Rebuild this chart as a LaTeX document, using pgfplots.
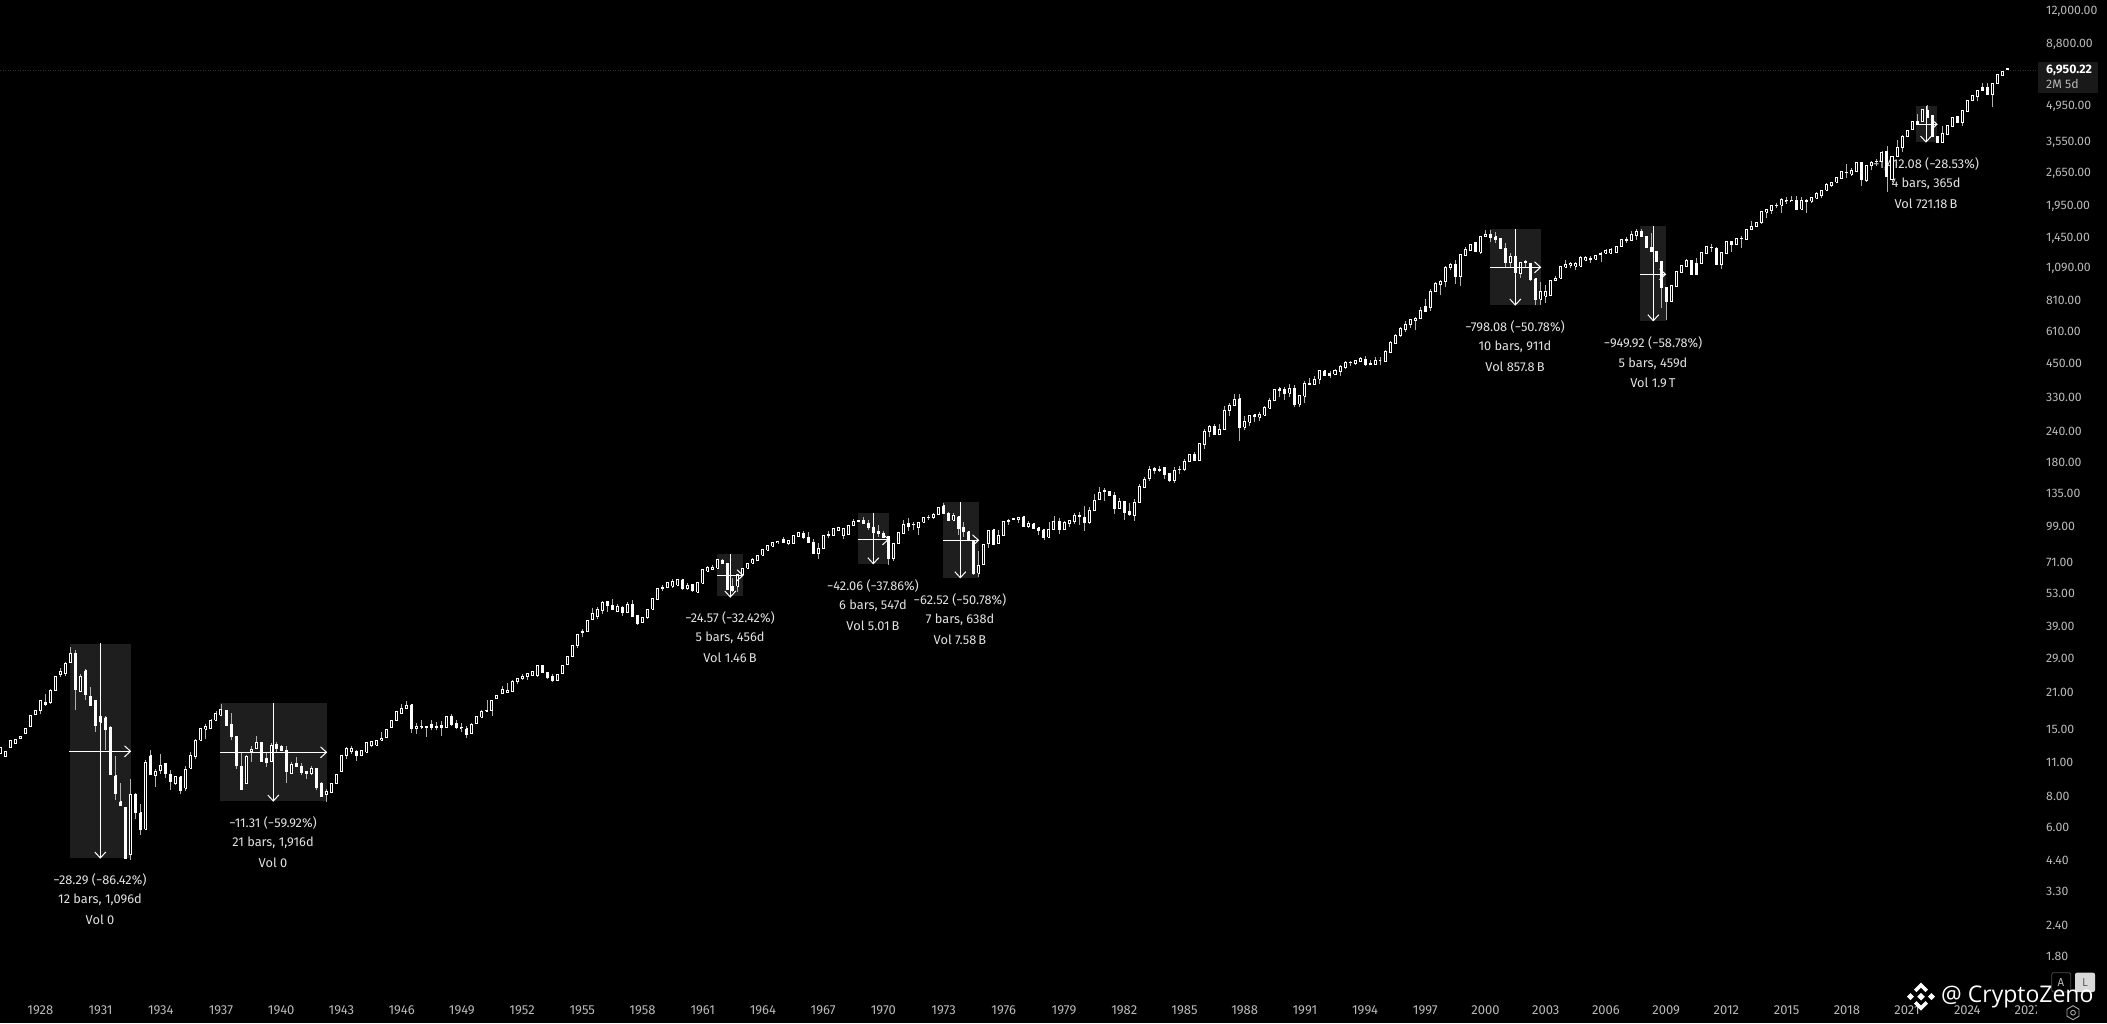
\documentclass[border=0pt]{standalone}
\usepackage{fontspec}
\setmainfont{Fira Sans}
\newfontfamily\wmfont{Open Sans}
\usepackage{pgfplots}
\usepackage{pgfplotstable}
\pgfplotsset{compat=1.18}
\definecolor{annbg}{HTML}{1E1E1E}
\definecolor{ticktxt}{HTML}{B8B8B8}
\definecolor{anntxt}{HTML}{E2E2E2}
\definecolor{wickc}{HTML}{B0B0B0}
\pgfplotstableread{
yr o h l c
1926.00 11.80 12.60 11.80 12.55
1926.25 11.45 12.05 11.45 12.00
1926.50 12.55 13.40 12.55 13.35
1926.75 12.95 13.55 12.95 13.50
1927.00 13.55 13.90 13.55 13.85
1927.25 14.20 14.95 14.20 14.90
1927.50 15.20 16.90 15.20 16.85
1927.75 17.00 17.65 17.00 17.60
1928.00 17.60 19.35 17.00 19.30
1928.25 19.00 20.60 18.40 18.70
1928.50 19.00 21.60 18.70 21.20
1928.75 21.20 24.25 21.20 24.20
1929.00 24.60 26.10 24.20 25.30
1929.25 24.80 27.80 24.30 27.30
1929.50 27.60 31.80 27.60 30.05
1929.75 30.05 31.00 17.80 21.50
1930.00 21.00 24.70 21.00 24.10
1930.25 25.50 25.90 19.40 20.40
1930.50 20.10 22.00 18.50 18.50
1930.75 19.40 19.45 14.40 15.30
1931.00 15.80 18.20 15.10 16.70
1931.25 16.50 16.70 12.20 14.80
1931.50 15.10 15.20 9.70 9.70
1931.75 9.60 11.50 7.65 8.15
1932.00 7.55 8.95 7.25 7.25
1932.25 7.15 7.20 4.45 4.45
1932.50 4.60 9.30 4.40 8.10
1932.75 8.10 8.15 6.40 6.85
1933.00 6.80 7.40 5.55 5.85
1933.25 5.85 11.10 5.85 10.90
1933.50 11.60 12.20 9.70 9.70
1933.75 9.60 10.25 8.65 10.00
1934.00 10.05 11.80 9.75 10.60
1934.25 10.80 10.85 9.40 9.80
1934.50 9.75 10.10 8.40 9.10
1934.75 8.90 9.50 8.85 9.50
1935.00 9.50 9.60 8.10 8.40
1935.25 8.55 10.50 8.30 10.15
1935.50 10.30 12.00 10.30 11.60
1935.75 11.45 13.50 11.20 13.35
1936.00 13.35 15.00 13.35 14.95
1936.25 14.80 15.60 13.50 15.25
1936.50 14.90 16.30 14.90 16.00
1936.75 16.10 17.60 16.10 17.10
1937.00 16.90 18.80 16.70 17.80
1937.25 17.70 17.75 15.20 15.30
1937.50 15.50 17.20 13.35 13.80
1937.75 13.80 13.85 10.25 10.55
1938.00 10.50 12.00 8.45 8.45
1938.25 8.95 11.70 8.95 11.45
1938.50 12.00 12.65 10.95 12.30
1938.75 12.40 13.90 12.35 13.10
1939.00 13.10 13.20 10.95 10.95
1939.25 11.30 12.00 10.45 10.85
1939.50 10.95 13.00 10.95 12.70
1939.75 12.80 13.20 11.95 12.35
1940.00 12.65 12.80 12.05 12.10
1940.25 12.15 12.65 9.00 10.00
1940.50 9.80 10.95 9.80 10.70
1940.75 10.75 11.40 10.45 10.50
1941.00 10.50 10.80 9.65 9.90
1941.25 10.00 10.00 9.35 9.80
1941.50 9.80 10.50 9.65 10.25
1941.75 10.25 10.30 8.40 8.65
1942.00 8.90 9.10 7.95 7.95
1942.25 8.05 8.50 7.55 8.30
1942.50 8.20 8.95 8.20 8.90
1942.75 8.95 9.75 8.95 9.75
1943.00 9.95 11.60 9.95 11.60
1943.25 11.60 12.50 11.20 12.35
1943.50 12.05 12.65 11.80 12.40
1943.75 12.05 12.20 11.05 11.60
1944.00 11.55 12.10 11.55 12.10
1944.25 11.95 13.05 11.95 13.05
1944.50 12.70 13.30 12.50 13.20
1944.75 12.75 13.30 12.75 13.30
1945.00 13.35 14.50 13.35 13.60
1945.25 13.70 14.80 13.70 14.80
1945.50 15.00 16.00 15.00 16.00
1945.75 16.05 17.40 16.05 17.40
1946.00 17.10 18.70 17.10 18.00
1946.25 17.95 19.30 17.95 18.40
1946.50 18.60 18.65 14.25 14.85
1946.75 14.90 15.70 14.20 15.20
1947.00 15.10 16.10 14.85 15.20
1947.25 15.20 15.20 13.80 15.10
1947.50 15.50 16.10 14.70 15.00
1947.75 15.10 15.85 14.70 15.15
1948.00 15.35 16.00 13.90 15.10
1948.25 15.05 16.70 15.05 16.70
1948.50 16.70 17.00 15.20 15.45
1948.75 15.70 16.10 14.85 15.10
1949.00 15.00 15.75 14.45 15.05
1949.25 14.90 15.20 13.60 14.10
1949.50 14.20 15.75 14.20 15.55
1949.75 15.60 16.65 15.60 16.65
1950.00 16.60 17.65 16.60 17.40
1950.25 17.55 19.40 17.55 17.65
1950.50 17.60 19.40 16.80 19.40
1950.75 19.70 20.30 19.70 20.30
1951.00 20.60 22.10 20.60 21.50
1951.25 20.90 22.75 20.90 21.30
1951.50 21.00 23.45 21.00 23.15
1951.75 23.20 23.80 22.50 23.80
1952.00 23.80 24.80 23.40 24.30
1952.25 24.20 24.90 23.40 24.90
1952.50 24.40 25.30 24.40 25.30
1952.75 24.40 26.70 24.00 26.70
1953.00 26.70 26.75 25.10 25.10
1953.25 25.20 25.25 23.70 24.00
1953.50 24.30 24.80 23.00 23.40
1953.75 23.40 24.70 23.40 24.70
1954.00 25.00 26.90 25.00 26.90
1954.25 27.00 29.30 27.00 29.30
1954.50 29.10 32.40 29.10 32.40
1954.75 32.20 35.90 31.70 35.90
1955.00 36.50 37.70 34.90 36.70
1955.25 36.80 40.90 36.80 40.90
1955.50 41.30 45.80 41.30 43.60
1955.75 42.30 46.20 41.30 45.30
1956.00 44.70 48.90 43.30 48.30
1956.25 48.70 48.75 44.30 46.80
1956.50 46.90 49.70 45.10 45.10
1956.75 44.30 47.50 44.30 46.50
1957.00 46.20 46.80 42.70 43.80
1957.25 43.90 48.40 43.90 47.50
1957.50 47.50 49.20 42.30 42.30
1957.75 42.80 42.85 39.10 39.50
1958.00 40.00 42.10 40.00 42.10
1958.25 41.90 45.30 41.50 45.30
1958.50 45.20 50.10 45.20 50.10
1958.75 49.50 55.00 49.50 55.00
1959.00 55.00 57.00 53.80 55.20
1959.25 55.30 58.10 55.30 58.10
1959.50 56.20 60.30 55.20 58.60
1959.75 56.60 59.70 56.60 59.70
1960.00 59.70 59.75 54.00 55.00
1960.25 54.90 57.70 54.00 56.70
1960.50 57.20 57.25 53.00 53.70
1960.75 53.00 58.10 52.50 58.10
1961.00 57.70 65.30 57.70 65.30
1961.25 64.60 67.90 64.60 66.65
1961.50 65.30 68.50 65.30 67.10
1961.75 66.40 71.80 66.40 71.80
1962.00 71.60 72.30 69.40 69.40
1962.25 69.60 69.70 54.30 54.40
1962.50 56.20 60.50 53.00 54.10
1962.75 56.00 62.60 53.30 62.60
1963.00 62.40 66.40 62.40 66.40
1963.25 66.20 69.60 66.20 69.60
1963.50 69.60 73.10 69.60 71.80
1963.75 71.10 74.90 71.10 74.90
1964.00 74.90 78.80 74.90 78.80
1964.25 78.30 82.00 78.30 82.00
1964.50 81.50 84.30 81.50 84.30
1964.75 84.90 85.20 83.10 85.10
1965.00 86.50 88.70 83.80 84.30
1965.25 83.80 86.20 82.00 86.20
1965.50 83.30 89.60 83.30 89.60
1965.75 89.10 93.30 89.10 92.50
1966.00 92.00 94.20 87.10 88.70
1966.25 88.70 93.30 84.30 84.30
1966.50 84.60 87.10 75.80 76.30
1966.75 76.10 83.80 72.50 79.90
1967.00 79.40 90.40 79.40 90.40
1967.25 90.40 94.00 87.60 90.50
1967.50 89.90 96.30 89.90 96.30
1967.75 93.90 97.80 93.90 97.20
1968.00 90.40 96.30 87.10 96.30
1968.25 90.70 99.10 90.70 99.10
1968.50 98.80 104.90 98.80 102.90
1968.75 102.90 104.00 101.90 103.50
1969.00 103.50 106.80 101.00 101.00
1969.25 101.00 104.10 94.80 96.90
1969.50 97.20 110.70 91.50 92.60
1969.75 93.10 99.10 89.10 92.00
1970.00 92.00 94.20 88.70 88.70
1970.25 89.10 89.20 68.50 72.70
1970.50 72.70 83.80 71.30 83.80
1970.75 83.50 92.30 83.50 92.30
1971.00 92.00 103.50 92.00 99.90
1971.25 100.20 105.70 94.20 98.10
1971.50 99.50 101.70 94.80 100.00
1971.75 97.20 101.40 90.40 101.40
1972.00 101.70 106.80 101.70 106.80
1972.25 106.70 109.40 104.10 106.80
1972.50 106.40 111.00 105.10 109.40
1972.75 109.10 116.80 109.10 116.80
1973.00 118.50 121.50 110.00 110.00
1973.25 110.70 112.40 103.50 103.50
1973.50 103.50 110.70 103.50 108.00
1973.75 107.30 107.40 90.40 96.30
1974.00 97.20 102.50 89.10 93.30
1974.25 93.30 93.40 85.30 85.80
1974.50 85.80 85.90 62.40 62.90
1974.75 63.40 77.80 61.00 67.90
1975.00 68.40 82.80 68.40 82.80
1975.25 83.30 94.20 79.90 94.20
1975.50 94.80 96.00 82.80 82.80
1975.75 83.30 94.80 83.30 89.90
1976.00 89.90 102.90 89.90 102.90
1976.25 102.30 105.10 99.50 103.50
1976.50 104.10 105.90 104.10 105.90
1976.75 104.10 106.80 101.00 106.80
1977.00 107.30 107.40 98.00 98.00
1977.25 97.70 102.90 96.50 100.50
1977.50 100.20 100.30 96.20 96.20
1977.75 96.80 96.90 90.10 94.40
1978.00 95.00 95.10 86.60 88.10
1978.25 88.40 102.40 88.40 95.50
1978.50 95.00 108.30 95.00 102.40
1978.75 102.40 106.30 91.50 95.30
1979.00 95.30 103.40 95.30 101.50
1979.25 100.50 104.40 97.70 103.40
1979.50 102.40 110.90 100.50 108.90
1979.75 108.90 111.90 99.60 107.60
1980.00 106.30 118.60 94.10 101.80
1980.25 101.20 116.90 100.00 114.00
1980.50 113.70 132.90 113.70 125.20
1980.75 125.60 140.90 125.60 134.60
1981.00 136.00 139.60 124.30 136.30
1981.25 135.90 135.95 129.90 130.30
1981.50 130.00 134.60 110.30 115.30
1981.75 115.60 127.50 115.60 123.00
1982.00 123.20 123.60 104.30 111.70
1982.25 113.00 121.80 107.60 109.10
1982.50 108.50 126.80 103.00 121.80
1982.75 122.20 144.90 122.20 141.60
1983.00 140.60 154.50 140.60 152.00
1983.25 153.10 171.80 149.00 166.90
1983.50 167.30 171.10 159.50 165.10
1983.75 165.50 171.80 162.80 166.00
1984.00 169.00 169.10 152.00 159.00
1984.25 160.00 160.10 148.00 150.00
1984.50 149.70 170.70 147.00 165.60
1984.75 166.00 171.80 160.00 166.50
1985.00 165.90 183.30 163.70 179.80
1985.25 178.70 191.80 178.70 191.80
1985.50 191.80 196.30 180.40 180.40
1985.75 180.90 213.00 180.90 211.00
1986.00 209.80 242.70 201.70 237.40
1986.25 236.70 251.70 226.00 249.30
1986.50 248.50 254.40 228.40 229.70
1986.75 230.40 254.40 230.40 241.80
1987.00 241.00 300.00 241.00 288.70
1987.25 287.50 309.00 273.90 303.00
1987.50 301.60 337.00 301.60 318.00
1987.75 321.00 337.00 217.50 245.00
1988.00 246.80 273.50 241.40 259.30
1988.25 258.50 275.20 249.10 275.20
1988.50 277.00 277.10 258.50 273.50
1988.75 270.60 284.30 262.00 278.00
1989.00 276.00 301.30 276.00 295.10
1989.25 294.20 322.50 294.20 316.60
1989.50 315.00 352.00 315.00 350.20
1989.75 353.00 360.00 327.00 348.00
1990.00 352.00 360.00 316.60 338.50
1990.25 338.50 369.00 327.00 355.00
1990.50 355.00 367.00 297.00 305.00
1990.75 305.00 334.00 297.00 331.00
1991.00 329.00 380.00 310.00 371.00
1991.25 371.00 391.00 367.00 367.00
1991.50 366.00 399.00 366.00 386.00
1991.75 385.00 417.50 368.00 417.00
1992.00 417.00 420.00 400.00 400.00
1992.25 407.00 417.00 391.00 400.00
1992.50 404.00 426.00 404.00 417.00
1992.75 416.00 441.00 396.00 434.00
1993.00 431.00 458.00 426.00 449.00
1993.25 450.00 456.00 437.00 451.00
1993.50 447.00 463.00 442.00 458.00
1993.75 455.00 473.00 455.00 467.00
1994.00 465.00 478.00 438.00 442.00
1994.25 445.00 463.00 439.00 443.00
1994.50 442.00 475.00 442.00 461.00
1994.75 461.00 475.00 442.00 461.00
1995.00 455.00 506.00 455.00 497.00
1995.25 496.00 550.00 496.00 541.00
1995.50 538.00 587.00 538.00 581.00
1995.75 578.00 625.00 573.00 617.00
1996.00 612.00 665.00 600.00 644.00
1996.25 642.00 678.00 622.00 670.00
1996.50 666.00 690.00 608.00 681.00
1996.75 676.00 757.00 676.00 733.00
1997.00 757.00 816.00 728.00 728.00
1997.25 751.00 891.00 728.00 873.00
1997.50 869.00 958.00 869.00 940.00
1997.75 934.00 976.00 848.00 958.00
1998.00 955.00 1109.00 914.00 1096.00
1998.25 1091.00 1138.00 1068.00 1124.00
1998.50 1127.00 1170.00 935.00 1002.00
1998.75 1001.00 1235.00 922.00 1228.00
1999.00 1222.00 1320.00 1222.00 1286.00
1999.25 1278.00 1360.00 1278.00 1356.00
1999.50 1372.00 1375.00 1266.00 1266.00
1999.75 1258.00 1465.00 1232.00 1460.00
2000.00 1456.00 1549.00 1456.00 1487.00
2000.25 1491.00 1549.00 1381.00 1438.00
2000.50 1451.00 1515.00 1368.00 1421.00
2000.75 1431.00 1435.00 1302.00 1302.00
2001.00 1306.00 1372.00 1085.00 1147.00
2001.25 1143.00 1254.00 1085.00 1212.00
2001.50 1212.00 1216.00 944.00 1037.00
2001.75 1030.00 1145.00 990.00 1140.00
2002.00 1147.00 1170.00 1085.00 1149.00
2002.25 1136.00 1143.00 965.00 980.00
2002.50 983.00 985.00 772.00 812.00
2002.75 812.00 950.00 769.00 876.00
2003.00 835.00 929.00 786.00 876.00
2003.25 838.00 970.00 838.00 970.00
2003.50 965.00 1005.00 965.00 989.00
2003.75 986.00 1102.00 986.00 1102.00
2004.00 1095.00 1165.00 1095.00 1126.00
2004.25 1112.00 1154.00 1082.00 1136.00
2004.50 1102.00 1154.00 1068.00 1133.00
2004.75 1102.00 1210.00 1102.00 1201.00
2005.00 1168.00 1216.00 1168.00 1201.00
2005.25 1181.00 1216.00 1136.00 1184.00
2005.50 1178.00 1219.00 1178.00 1219.00
2005.75 1236.00 1266.00 1154.00 1238.00
2006.00 1244.00 1300.00 1244.00 1282.00
2006.25 1248.00 1314.00 1248.00 1290.00
2006.50 1254.00 1332.00 1254.00 1332.00
2006.75 1332.00 1412.00 1332.00 1412.00
2007.00 1410.00 1446.00 1376.00 1414.00
2007.25 1404.00 1539.00 1404.00 1481.00
2007.50 1477.00 1557.00 1404.00 1525.00
2007.75 1521.00 1557.00 1456.00 1456.00
2008.00 1460.00 1465.00 1316.00 1316.00
2008.25 1320.00 1501.00 1266.00 1266.00
2008.50 1266.00 1270.00 1154.00 1154.00
2008.75 1158.00 1160.00 747.00 902.00
2009.00 902.00 905.00 667.00 792.00
2009.25 792.00 919.00 792.00 919.00
2009.50 915.00 1048.00 915.00 1048.00
2009.75 1037.00 1109.00 1037.00 1109.00
2010.00 1106.00 1183.00 1106.00 1164.00
2010.25 1164.00 1165.00 1026.00 1026.00
2010.50 1136.00 1192.00 1020.00 1020.00
2010.75 1136.00 1250.00 1136.00 1250.00
2011.00 1248.00 1322.00 1248.00 1322.00
2011.25 1314.00 1360.00 1258.00 1316.00
2011.50 1306.00 1326.00 1117.00 1124.00
2011.75 1120.00 1250.00 1074.00 1250.00
2012.00 1248.00 1391.00 1248.00 1391.00
2012.25 1391.00 1392.00 1266.00 1350.00
2012.50 1350.00 1431.00 1350.00 1431.00
2012.75 1431.00 1467.00 1306.00 1433.00
2013.00 1421.00 1562.00 1421.00 1562.00
2013.25 1553.00 1685.00 1543.00 1592.00
2013.50 1597.00 1660.00 1597.00 1660.00
2013.75 1655.00 1836.00 1634.00 1836.00
2014.00 1822.00 1870.00 1736.00 1870.00
2014.25 1851.00 1951.00 1801.00 1951.00
2014.50 1949.00 1994.00 1901.00 1951.00
2014.75 1945.00 2090.00 1818.00 2050.00
2015.00 2034.00 2095.00 1979.00 2036.00
2015.25 2034.00 2128.00 2030.00 2036.00
2015.50 2040.00 2128.00 1864.00 1882.00
2015.75 1882.00 2095.00 1882.00 2030.00
2016.00 2040.00 2075.00 1808.00 2024.00
2016.25 2024.00 2108.00 1994.00 2090.00
2016.50 2078.00 2197.00 2078.00 2170.00
2016.75 2128.00 2250.00 2078.00 2230.00
2017.00 2237.00 2390.00 2237.00 2366.00
2017.25 2340.00 2417.00 2310.00 2402.00
2017.50 2409.00 2515.00 2409.00 2515.00
2017.75 2497.00 2658.00 2497.00 2658.00
2018.00 2640.00 2860.00 2515.00 2645.00
2018.25 2600.00 2750.00 2562.00 2705.00
2018.50 2658.00 2915.00 2658.00 2900.00
2018.75 2910.00 2915.00 2340.00 2469.00
2019.00 2445.00 2813.00 2430.00 2813.00
2019.25 2820.00 2950.00 2705.00 2915.00
2019.50 2925.00 3010.00 2820.00 2930.00
2019.75 2925.00 3217.00 2925.00 3187.00
2020.00 3217.00 3385.00 2195.00 2550.00
2020.25 2469.00 3075.00 2430.00 3075.00
2020.50 3075.00 3580.00 3075.00 3340.00
2020.75 3330.00 3736.00 3200.00 3700.00
2021.00 3706.00 3920.00 3706.00 3912.00
2021.25 3940.00 4257.00 3940.00 4257.00
2021.50 4270.00 4545.00 4190.00 4190.00
2021.75 4243.00 4745.00 4243.00 4745.00
2022.00 4730.00 4955.00 4418.00 4418.00
2022.25 4515.00 4520.00 3706.00 3706.00
2022.50 3706.00 3710.00 3512.00 3512.00
2022.75 3512.00 4085.00 3512.00 3806.00
2023.00 3782.00 4085.00 3782.00 4085.00
2023.25 4045.00 4418.00 4045.00 4418.00
2023.50 4445.00 4450.00 4205.00 4215.00
2023.75 4215.00 4730.00 4085.00 4730.00
2024.00 4650.00 5191.00 4650.00 5191.00
2024.25 5160.00 5424.00 5130.00 5424.00
2024.50 5370.00 5690.00 5130.00 5690.00
2024.75 5810.00 6063.00 5670.00 5670.00
2025.00 5845.00 6063.00 5450.00 5490.00
2025.25 5490.00 6083.00 4860.00 6083.00
2025.50 6083.00 6580.00 6083.00 6580.00
2025.75 6545.00 6790.00 6545.00 6790.00
2026.00 6900.00 7020.00 6880.00 6950.22
}\spx
\pgfplotstablegetrowsof{\spx}
\pgfmathtruncatemacro\lastrow{\pgfplotsretval-1}
\def\wicks{}\def\ups{}\def\downs{}
\pgfplotsforeachungrouped \i in {0,...,\lastrow}{%
  \pgfplotstablegetelem{\i}{yr}\of\spx \let\vx\pgfplotsretval
  \pgfplotstablegetelem{\i}{o}\of\spx \let\vo\pgfplotsretval
  \pgfplotstablegetelem{\i}{h}\of\spx \let\vh\pgfplotsretval
  \pgfplotstablegetelem{\i}{l}\of\spx \let\vl\pgfplotsretval
  \pgfplotstablegetelem{\i}{c}\of\spx \let\vc\pgfplotsretval
  \pgfmathsetmacro\xa{\vx-0.05}\pgfmathsetmacro\xb{\vx+0.05}%
  \edef\wicks{\wicks(\vx,\vl)(\vx,\vh)(\vx,nan)}%
  \ifdim\vc pt<\vo pt
    \edef\downs{\downs(\xa,\vo)(\xb,\vo)(\xb,\vc)(\xa,\vc)(\xa,\vo)(\vx,nan)}%
  \else
    \edef\ups{\ups(\xa,\vo)(\xb,\vo)(\xb,\vc)(\xa,\vc)(\xa,\vo)(\vx,nan)}%
  \fi
}
% annotation helper, all in image pixels (1pt = 1px, y from top)
\newcommand\annbox[4]{\fill[annbg] (#1,{1023-#3}) rectangle (#2,{1023-#4});}
\newcommand\annarrows[6]{%
  \draw[white,line width=1pt] (#5,{1023-#3}) -- (#5,{1023-#4});
  \draw[white,line width=1pt] ({#5-5.5},{1023-#4+6}) -- (#5,{1023-#4}) -- ({#5+5.5},{1023-#4+6});
  \draw[white,line width=1pt] (#1,{1023-#6}) -- (#2,{1023-#6});
  \draw[white,line width=1pt] ({#2-6},{1023-#6+5.5}) -- (#2,{1023-#6}) -- ({#2-6},{1023-#6-5.5});}
\newcommand\annlabel[5]{%
  \node[anntxt,font=\fontsize{12.8}{14}\selectfont,inner sep=0pt] at (#1,{1023-#2}) {#3};
  \node[anntxt,font=\fontsize{12.8}{14}\selectfont,inner sep=0pt] at (#1,{1023-#2-20}) {#4};
  \node[anntxt,font=\fontsize{12.8}{14}\selectfont,inner sep=0pt] at (#1,{1023-#2-40}) {#5};}
\begin{document}
\begin{tikzpicture}[x=1pt,y=1pt]
\path[use as bounding box,fill=black] (0,0) rectangle (2107,1023);
\draw[color=black!82!white,dotted,line width=0.5pt] (0,953) -- (2038,953);
\annbox{70}{131}{643.7}{858}
\annbox{220}{327}{703}{801}
\annbox{717}{743}{554}{596}
\annbox{857.7}{889}{513}{563.7}
\annbox{943}{979}{502}{577.7}
\annbox{1490}{1541}{229}{305}
\annbox{1640}{1666}{226}{320.7}
\annbox{1916}{1937}{106}{142}
\annlabel{100}{879.7}{−28.29 (−86.42\%)}{12 bars, 1,096d}{Vol 0}
\annlabel{273}{822.7}{−11.31 (−59.92\%)}{21 bars, 1,916d}{Vol 0}
\annlabel{730}{617.7}{−24.57 (−32.42\%)}{5 bars, 456d}{Vol 1.46\,B}
\annlabel{873}{586}{−42.06 (−37.86\%)}{6 bars, 547d}{Vol 5.01\,B}
\annlabel{960}{600}{−62.52 (−50.78\%)}{7 bars, 638d}{Vol 7.58\,B}
\annlabel{1515}{327}{−798.08 (−50.78\%)}{10 bars, 911d}{Vol 857.8\,B}
\annlabel{1653}{343.3}{−949.92 (−58.78\%)}{5 bars, 459d}{Vol 1.9\,T}
\annlabel{1926}{164}{−1,412.08 (−28.53\%)}{4 bars, 365d}{Vol 721.18\,B}
\begin{axis}[at={(0,0)},anchor=south west,scale only axis,width=2037pt,height=1023pt,
  xmin=1925.99,xmax=2027.475,ymode=log,ymin=0.961,ymax=13171,
  axis line style={draw=none},major tick length=0pt,minor tick length=0pt,ytick=\empty,
  xtick={1928,1931,...,2027},
  xticklabels={1928,1931,1934,1937,1940,1943,1946,1949,1952,1955,1958,1961,1964,1967,1970,1973,1976,1979,1982,1985,1988,1991,1994,1997,2000,2003,2006,2009,2012,2015,2018,2021,2024,2027},
  xticklabel style={anchor=center,text=ticktxt,font=\fontsize{13}{14}\selectfont,yshift=12.8pt},
  unbounded coords=jump]
\edef\cmd{\noexpand\addplot[wickc,line width=0.9pt,no markers,forget plot] coordinates {\wicks};}\cmd
\edef\cmd{\noexpand\addplot[white,fill=black,line width=1pt,no markers,forget plot] coordinates {\ups};}\cmd
\edef\cmd{\noexpand\addplot[white,fill=white,line width=1pt,no markers,forget plot] coordinates {\downs};}\cmd
\end{axis}
\annarrows{69}{130.5}{643.5}{858}{100.3}{751.3}
\annarrows{220}{326.5}{703}{801}{273.3}{752.3}
\annarrows{717}{743}{554}{597}{730.3}{575.3}
\annarrows{857.7}{888.5}{513}{563.7}{873.3}{539.3}
\annarrows{943}{978.5}{502}{577.7}{960.3}{540.3}
\annarrows{1490}{1540.5}{229}{305}{1515.3}{267.3}
\annarrows{1640}{1665.5}{226}{320.7}{1653.3}{274.3}
\annarrows{1916}{1937}{106}{142}{1926}{124.3}
% price scale
\fill[black] (2037,0) rectangle (2107,1023);
\fill[black!90!white] (2038,{1023-92.7}) rectangle (2098,{1023-62});
\begin{axis}[at={(2037pt,0)},anchor=south west,scale only axis,width=9pt,height=1023pt,
  xmin=0,xmax=1,ymode=log,ymin=0.961,ymax=13171,
  axis line style={draw=none},major tick length=0pt,minor tick length=0pt,xtick=\empty,
  yticklabel pos=right,
  ytick={12000,8800,4950,3550,2650,1950,1450,1090,810,610,450,330,240,180,135,99,71,53,39,29,21,15,11,8,6,4.4,3.3,2.4,1.8},
  yticklabels={{12,000.00},{8,800.00},{4,950.00},{3,550.00},{2,650.00},{1,950.00},{1,450.00},{1,090.00},{810.00},{610.00},{450.00},{330.00},{240.00},{180.00},{135.00},{99.00},{71.00},{53.00},{39.00},{29.00},{21.00},{15.00},{11.00},{8.00},{6.00},{4.40},{3.30},{2.40},{1.80}},
  yticklabel style={anchor=west,inner sep=0pt,text=ticktxt,font=\fontsize{12.3}{14}\selectfont,yshift=-1pt}]
\end{axis}
\node[anchor=west,inner sep=0pt,text=white,font=\fontsize{12.3}{14}\selectfont\bfseries] at (2046,{1023-70}) {6,950.22};
\node[anchor=west,inner sep=0pt,text=ticktxt,font=\fontsize{12.3}{14}\selectfont] at (2046,{1023-84}) {2M 5d};
% buttons and gear
\draw[black!70!white,rounded corners=2pt,line width=0.8pt] (2051.7,{1023-992}) rectangle (2070.7,{1023-972.7});
\node[text=ticktxt,font=\fontsize{11.5}{13}\selectfont] at (2061,{1023-983}) {A};
\fill[black!15!white,rounded corners=2pt] (2075,{1023-992}) rectangle (2095,{1023-972.7});
\node[text=black!60!white,font=\fontsize{11.5}{13}\selectfont] at (2085,{1023-983}) {L};
\draw[black!35!white,line width=0.9pt] (2073,{1023-1005.7}) -- (2079,{1023-1009.2}) -- (2079,{1023-1016.2}) -- (2073,{1023-1019.7}) -- (2067,{1023-1016.2}) -- (2067,{1023-1009.2}) -- cycle;
\draw[black!35!white,line width=0.9pt] (2073,{1023-1012.7}) circle (2.4);
% watermark
\node[anchor=west,inner sep=0pt,text=white,font=\wmfont\fontsize{23}{25}\selectfont] at (1941,{1023-997}) {@ CryptoZeno};
\begin{scope}[shift={(1921,{1023-996.7})}]
  \fill[white] (0,14) -- (7,7) -- (4.5,4.5) -- (0,9) -- (-4.5,4.5) -- (-7,7) -- cycle;
  \fill[white] (0,-14) -- (7,-7) -- (4.5,-4.5) -- (0,-9) -- (-4.5,-4.5) -- (-7,-7) -- cycle;
  \fill[white] (-14,0) -- (-10.5,3.5) -- (-7,0) -- (-10.5,-3.5) -- cycle;
  \fill[white] (14,0) -- (10.5,3.5) -- (7,0) -- (10.5,-3.5) -- cycle;
  \fill[white] (0,3.8) -- (3.8,0) -- (0,-3.8) -- (-3.8,0) -- cycle;
\end{scope}
\end{tikzpicture}
\end{document}
